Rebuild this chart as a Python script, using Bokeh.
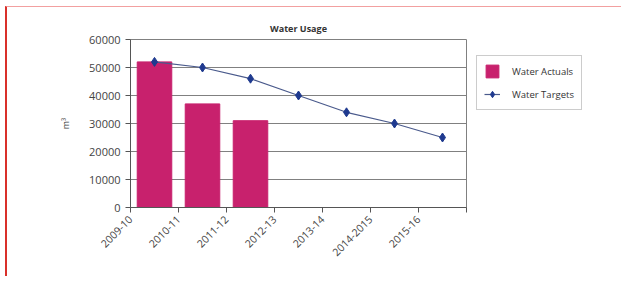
import math
from bokeh.plotting import figure
from bokeh.models import Legend, LegendItem, FixedTicker, Range1d
from bokeh.embed import file_html
from bokeh.resources import INLINE

years = ["2009-10", "2010-11", "2011-12", "2012-13", "2013-14", "2014-2015", "2015-16"]
actuals = [52000, 37000, 31000]
targets = [52000, 50000, 46000, 40000, 34000, 30000, 25000]
y_ticks = [0, 10000, 20000, 30000, 40000, 50000, 60000]

bar_x = [i + 0.5 for i in range(len(actuals))]
line_x = [i + 0.5 for i in range(len(targets))]

FONT = "Open Sans"
p = figure(frame_width=336, frame_height=168, output_backend="svg", toolbar_location=None,
           x_range=Range1d(0, len(years)), y_range=Range1d(0, 60000),
           min_border_left=123, min_border_right=150, min_border_top=32, min_border_bottom=69,
           title="Water Usage")
p.styles = {"margin-left": "5px", "margin-top": "6px",
            "border-left": "2px solid #d9302a", "border-top": "1px solid #f2a0a0"}
p.title.align = "center"
p.title.text_font = FONT
p.title.text_font_size = "9px"
p.title.text_font_style = "bold"
p.title.text_color = "#333333"
p.title.offset = 0

p.outline_line_color = "#808080"
p.background_fill_color = "white"

bars = p.vbar(x=bar_x, top=actuals, width=0.72, fill_color="#c8216d", line_color="#c8216d")
ln = p.line(x=line_x, y=targets, line_color="#4a5a8c", line_width=1.2)
mk = p.scatter(x=line_x, y=targets, marker="diamond", size=9, fill_color="#1f3a8f", line_color="#1f3a8f")

p.xaxis.ticker = FixedTicker(ticks=list(range(len(years) + 1)))
p.xaxis.major_label_overrides = {i: lab for i, lab in enumerate(years)} | {len(years): ""}
p.xaxis.major_label_orientation = math.pi / 4
p.xaxis.major_tick_in = 0
p.xaxis.major_tick_out = 5
p.xaxis.minor_tick_line_color = None
p.xaxis.axis_line_color = "#555555"
p.xaxis.major_tick_line_color = "#555555"
p.xaxis.major_label_text_font = FONT
p.xaxis.major_label_text_font_size = "10.5px"
p.xaxis.major_label_text_color = "#444444"
p.xgrid.grid_line_color = None

p.yaxis.ticker = FixedTicker(ticks=y_ticks)
p.yaxis.major_tick_in = 0
p.yaxis.major_tick_out = 5
p.yaxis.minor_tick_line_color = None
p.yaxis.axis_line_color = "#555555"
p.yaxis.major_tick_line_color = "#555555"
p.yaxis.major_label_text_font = FONT
p.yaxis.major_label_text_font_size = "11px"
p.yaxis.major_label_text_color = "#444444"
p.yaxis.axis_label = "m³"
p.yaxis.axis_label_text_font = FONT
p.yaxis.axis_label_text_font_size = "9px"
p.yaxis.axis_label_text_font_style = "normal"
p.yaxis.axis_label_text_color = "#444444"
p.yaxis.axis_label_standoff = 14
p.yaxis.formatter.use_scientific = False
p.ygrid.grid_line_color = "#808080"
p.ygrid.grid_line_width = 1

legend = Legend(items=[LegendItem(label="Water Actuals", renderers=[bars]),
                       LegendItem(label="Water Targets", renderers=[ln, mk])],
                location=(10, 97), border_line_color="#999999",
                label_text_font=FONT, label_text_font_size="9.5px", label_text_color="#333333",
                glyph_width=16, glyph_height=16, label_height=16, spacing=7,
                padding=7, margin=0, label_standoff=12)
p.add_layout(legend, "right")

open("out.html", "w").write(file_html(p, INLINE))
